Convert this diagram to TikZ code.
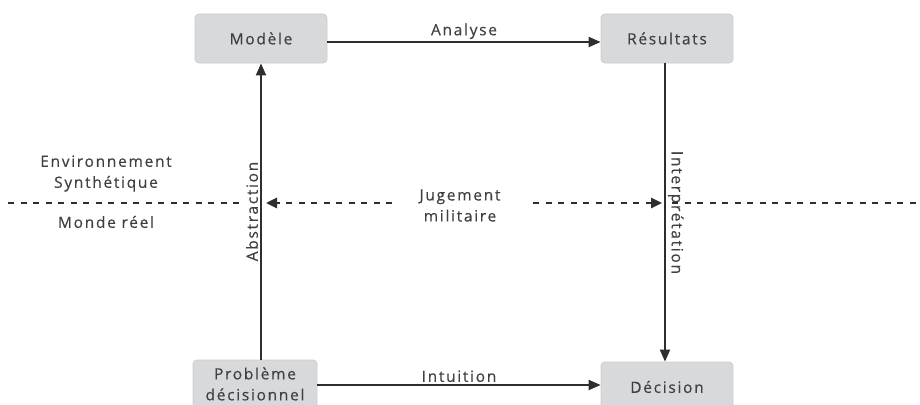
\documentclass[tikz,border=0pt]{standalone}
\usepackage{fontspec}
\setmainfont{Open Sans}
\usetikzlibrary{arrows.meta}
\definecolor{boxfill}{HTML}{D8D9DB}
\definecolor{boxline}{HTML}{CCCDD0}
\definecolor{txt}{HTML}{404040}
\definecolor{lin}{HTML}{2E2E2E}
\newcommand{\labfont}{\fontsize{15.5}{21}\selectfont\addfontfeatures{LetterSpace=11,FakeBold=0.3}}
\begin{document}
\begin{tikzpicture}[x=1pt,y=-1pt,
  box/.style={draw=boxline,fill=boxfill,rounded corners=4pt,line width=0.8pt,
    minimum width=132pt,inner sep=0pt,align=center,text=txt,font=\labfont},
  lab/.style={text=txt,font=\labfont,align=center,inner sep=1pt},
  conn/.style={draw=lin,line width=2pt,-{Triangle[length=12pt,width=10pt]}},
  dashline/.style={draw=lin,line width=2.6pt,dash pattern=on 6pt off 6.5pt}
]
\clip (0,0) rectangle (920,404);
\fill[white] (0,0) rectangle (920,404);

% boxes
\node[box,minimum height=49pt] (mod) at (261,38.5) {Mod\`ele};
\node[box,minimum height=49pt] (res) at (667,38.5) {R\'esultats};
\node[box,minimum width=124pt,minimum height=48pt] (prob) at (255,384) {Probl\`eme\\d\'ecisionnel};
\node[box,minimum height=50pt] (dec) at (667,387) {D\'ecision};

% main arrows
\draw[conn] (mod.east |- 0,42) -- node[lab,above=1pt] (ana) {Analyse} (res.west |- 0,42);
\draw[conn] (prob.east |- 0,385) -- node[lab,above=1pt] (int) {Intuition} (dec.west |- 0,385);
\draw[conn] (prob.north -| mod.south) -- node[lab,rotate=90,above=1pt,anchor=south] (abs) {Abstraction} (mod.south);
\draw[conn] (res.south -| 665,0) -- node[lab,rotate=-90,above=1pt,anchor=south] (itp) {Interpr\'etation} (dec.north -| 665,0);

% labels
\node[lab] (env) at (106,173.5) {Environnement\\Synth\'etique};
\node[lab] (mr) at (106,222) {Monde r\'eel};
\node[lab] (jug) at (460,205.5) {Jugement\\militaire};

% dashed lines
\coordinate (l0) at (8,203);
\coordinate (l1) at (242,203);
\coordinate (a0) at (392,203);
\coordinate (a1) at (266,203);
\coordinate (b0) at (533,203);
\coordinate (b1) at (662,203);
\coordinate (r0) at (672,203);
\coordinate (r1) at (920,203);
\draw[dashline] (l0) -- (l1);
\draw[dashline,-{Triangle[length=11pt,width=10pt]}] (a0) -- (a1);
\draw[dashline,-{Triangle[length=11pt,width=10pt]}] (b0) -- (b1);
\draw[dashline] (r0) -- (r1);
\end{tikzpicture}
\end{document}
